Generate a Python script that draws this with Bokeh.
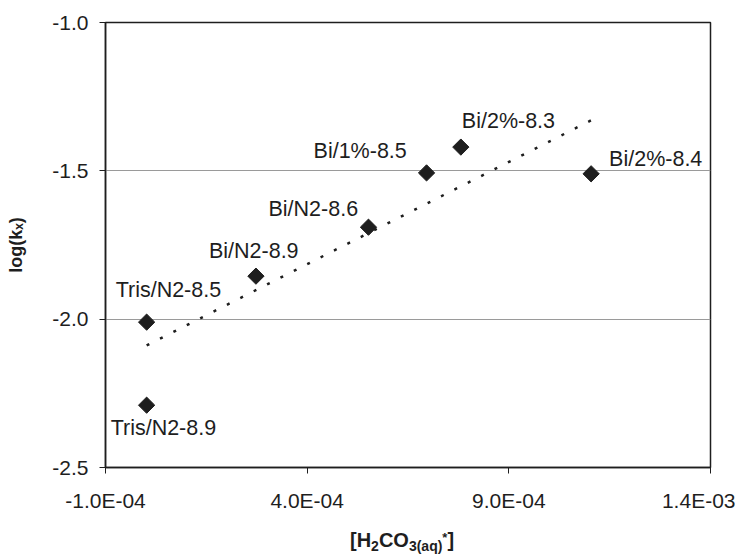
import numpy as np
from bokeh.plotting import figure
from bokeh.layouts import column
from bokeh.models import Range1d, FixedTicker, PrintfTickFormatter, Title, Div, ColumnDataSource
from bokeh.embed import file_html
from bokeh.resources import INLINE
from bokeh.core.properties import value

# ---- data ----
conc = [0.02e-4, 0.02e-4, 2.73e-4, 5.52e-4, 6.96e-4, 7.81e-4, 11.04e-4]
logk = [-2.29, -2.01, -1.855, -1.69, -1.507, -1.42, -1.51]
names = ["Tris/N2-8.9", "Tris/N2-8.5", "Bi/N2-8.9", "Bi/N2-8.6",
         "Bi/1%-8.5", "Bi/2%-8.3", "Bi/2%-8.4"]
x_ticks = [-1.0e-4, 4.0e-4, 9.0e-4, 1.4e-3]
x_tick_labels = ["-1.0E-04", "4.0E-04", "9.0E-04", "1.4E-03"]
y_ticks = [-2.5, -2.0, -1.5, -1.0]

# label placement (pixels, styling only)
lab_dx = [-36, -31, -47, -100, -113, 1, 18]
lab_dy = [23, -32, -25, -18, -22, -26, -15]

FONT = "Liberation Sans"
INK = "#1e1e1e"

p = figure(width=735, height=520, output_backend="svg", toolbar_location=None,
           x_range=Range1d(x_ticks[0], x_ticks[-1]), y_range=Range1d(y_ticks[0], y_ticks[-1]),
           min_border_left=105, min_border_right=25, min_border_top=22, min_border_bottom=53)
p.background_fill_color = "white"
p.border_fill_color = "white"
p.outline_line_color = INK
p.outline_line_width = 1.5

# axes
p.xaxis.ticker = FixedTicker(ticks=x_ticks)
p.xaxis.major_label_overrides = {t: l for t, l in zip(x_ticks, x_tick_labels)}
p.yaxis.ticker = FixedTicker(ticks=y_ticks)
p.yaxis.formatter = PrintfTickFormatter(format="%.1f")
for ax in (p.xaxis, p.yaxis):
    ax.axis_line_color = INK
    ax.axis_line_width = 1.5
    ax.major_tick_line_color = INK
    ax.major_tick_out = 6
    ax.major_tick_in = 0
    ax.minor_tick_line_color = None
    ax.major_label_text_font = FONT
    ax.major_label_text_font_size = "21px"
    ax.major_label_text_color = INK
p.xaxis.major_label_standoff = 15
p.yaxis.major_label_standoff = 11
# invisible spacer label to push the title outward
p.yaxis.axis_label = " "
p.yaxis.axis_label_text_font_size = "1px"
p.yaxis.axis_label_standoff = 20

p.xgrid.grid_line_color = None
p.ygrid.ticker = FixedTicker(ticks=y_ticks)
p.ygrid.grid_line_color = "#9a9a9a"
p.ygrid.grid_line_width = 1

# trendline (least squares fit of the data)
slope, icpt = np.polyfit(conc, logk, 1)
tx = np.array([min(conc), max(conc)])
p.line(tx, slope * tx + icpt, line_color=INK, line_width=2.5, line_dash="3 12")

src = ColumnDataSource(dict(x=conc, y=logk, name=names, dx=lab_dx, dy=lab_dy))
p.scatter("x", "y", source=src, marker="square", size=11.5, angle=np.pi / 4,
          fill_color=INK, line_color=INK)
p.text("x", "y", text="name", source=src, x_offset="dx", y_offset="dy",
       text_font=value(FONT), text_font_size="21.5px", text_color=INK,
       text_align="left", text_baseline="middle")

# y axis title (shifted a bit below the middle, as in the original)
p.add_layout(Title(text="log(kₓ)", align="center", offset=-22, standoff=0,
                   text_font=FONT, text_font_style="bold", text_font_size="18px",
                   text_color=INK), "left")

# x axis title with sub/superscripts
xlabel = Div(
    text=('<div style="padding-left:350px; padding-top:8px; font-family:\'Liberation Sans\';'
          ' font-weight:bold; font-size:20px; line-height:20px; color:#1e1e1e; white-space:nowrap">'
          '[H<span style="font-size:14px; vertical-align:-4px">2</span>CO'
          '<span style="font-size:14px; vertical-align:-4px">3(aq)</span>'
          '<span style="font-size:13px; vertical-align:5px">*</span>]</div>'),
    width=735, height=26, margin=0)

layout = column(p, xlabel, spacing=0)
open("out.html", "w").write(file_html(layout, INLINE))
